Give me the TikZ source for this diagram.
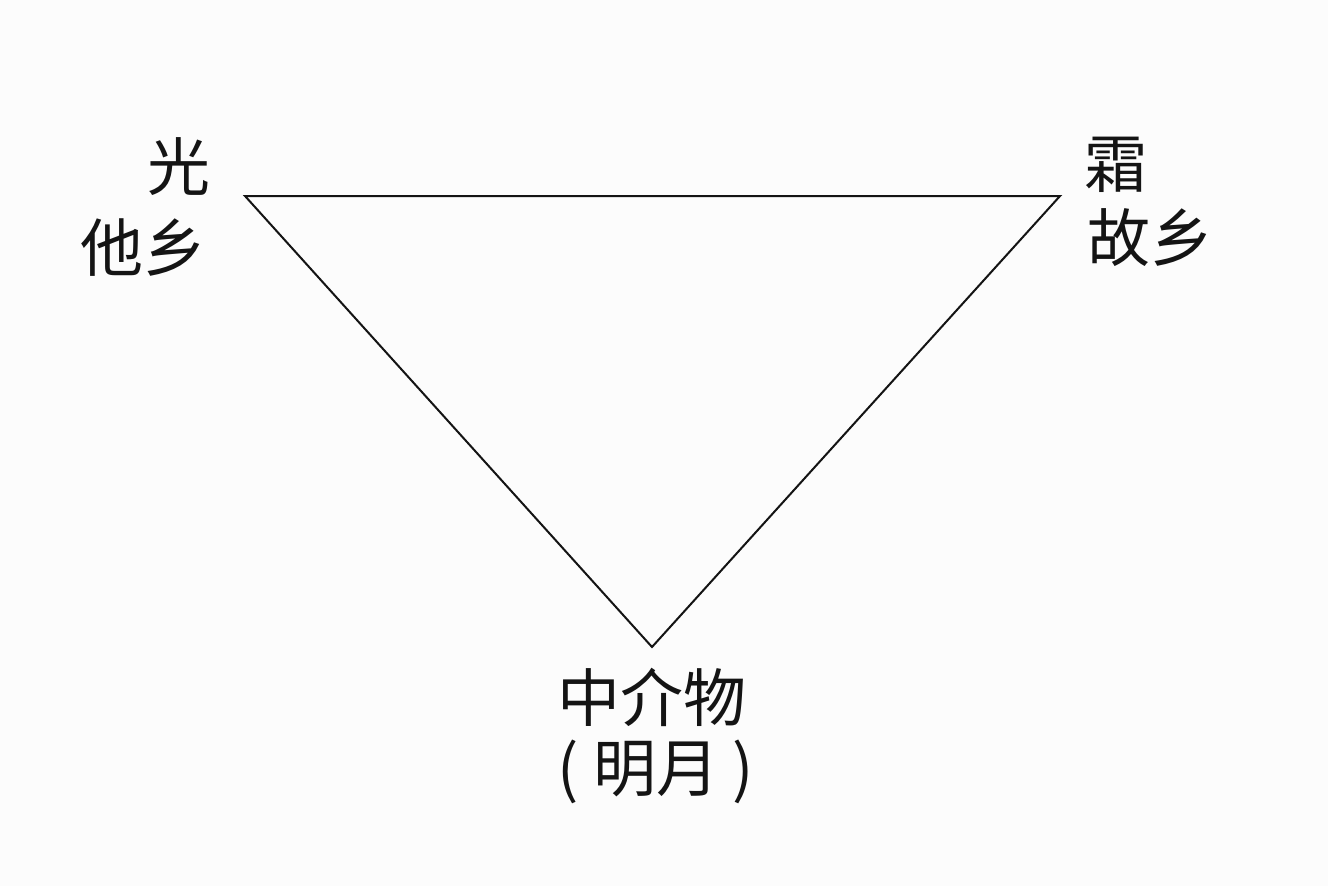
\documentclass[tikz,border=0pt]{standalone}
\usepackage{fontspec}
\newfontfamily\cjk{Noto Sans CJK SC}
\definecolor{bg}{RGB}{252,252,252}
\definecolor{ink}{RGB}{20,20,20}
\tikzset{
  lbl/.style={font=\cjk\fontsize{63}{63}\selectfont, text=ink, inner sep=0pt},
  edge/.style={draw=ink, line width=2pt, line join=miter}
}
\begin{document}
\begin{tikzpicture}[x=1pt,y=-1pt]
\fill[bg] (0,0) rectangle (1328,886);
\useasboundingbox (0,0) rectangle (1328,886);
\coordinate (L) at (245,196);
\coordinate (R) at (1060,196);
\coordinate (B) at (652,647);
\draw[edge] (L) -- (R) -- (B) -- cycle;
\node[lbl, anchor=east] (guang) at (211,167) {光};
\node[lbl, anchor=east] (taxiang) at (207,248) {他乡};
\node[lbl, anchor=west] (shuang) at (1084,165) {霜};
\node[lbl, anchor=west] (guxiang) at (1087,238) {故乡};
\node[lbl] (zhongjie) at (652,697) {中介物};
\node[lbl] (mingyue) at (656,772) {(\hspace{0.22em}明月\hspace{0.22em})};
\end{tikzpicture}
\end{document}
